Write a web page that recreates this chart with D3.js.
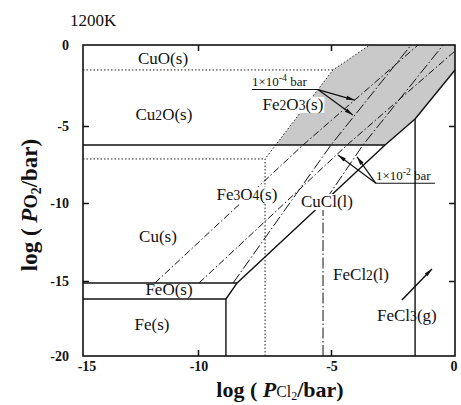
<!DOCTYPE html>
<html>
<head>
<meta charset="utf-8">
<script src="https://cdn.jsdelivr.net/npm/d3@7"></script>
<style>
body { margin: 0; background: #fff; }
text { font-family: "Liberation Serif", "DejaVu Serif", serif; fill: #111; }
</style>
</head>
<body>
<div id="chart"></div>
<script>
///////////////////// DATA /////////////////////////
let x_ticks = [-15, -10, -5, 0];
let y_ticks = [0, -5, -10, -15, -20];

// Fe-O-Cl phase boundaries (solid), [log PCl2, log PO2]
let fe_lines = [
    [[-15, -16.2], [-8.95, -16.2]],                    // Fe / FeO
    [[-8.95, -20], [-8.95, -16.2]],                    // Fe / FeCl2
    [[-15, -15.13], [-8.53, -15.13]],                  // FeO / Fe3O4
    [[-8.95, -16.2], [-8.53, -15.13], [-2.82, -6.23],
     [-1.61, -4.57], [0, -1.54]],                      // oxide / chloride
    [[-15, -6.23], [-2.82, -6.23]],                    // Fe3O4 / Fe2O3
    [[-1.61, -20], [-1.61, -4.57]]                     // FeCl2 / FeCl3
];

// Cu-O-Cl phase boundaries (dotted)
let cu_lines = [
    [[-15, -1.54], [-4.92, -1.54]],                    // Cu2O / CuO
    [[-15, -7.14], [-7.48, -7.14]],                    // Cu / Cu2O
    [[-7.48, -20], [-7.48, -7.14], [-4.92, -1.54], [-3.43, 0]] // / CuCl
];

// iso-pressure lines of the iron chlorides
let fecl2_iso = [
    [[-11.87, -15.13], [-6.05, -6.23], [-1.49, 0]],    // 1e-4 bar
    [[-9.96, -15.13], [-4.35, -6.23], [0, -0.37]]      // 1e-2 bar
];
let fecl3_iso = [
    [[-8.68, -15.13], [-5.0, -6.23], [-1.77, 0]],      // 1e-4 bar
    [[-5.30, -20], [-5.30, -10.05], [-3.71, -6.23], [-0.48, 0]] // 1e-2 bar
];

// Fe2O3(s) + CuCl(l) field
let shaded = [[-7.08, -6.23], [-4.92, -1.54], [-3.43, 0], [0, 0],
              [0, -1.54], [-1.61, -4.57], [-2.82, -6.23]];

// phase names and where they sit
let phase_names = ["CuO(s)", "Cu2O(s)", "Fe2O3(s)", "Fe3O4(s)", "CuCl(l)",
                   "Cu(s)", "FeO(s)", "Fe(s)", "FeCl2(l)", "FeCl3(g)"];
let phase_pos = [[-11.52, -1.17], [-11.48, -4.63], [-6.43, -4.01], [-8.16, -9.81], [-5.15, -10.26],
                 [-11.74, -12.5], [-11.26, -15.93], [-12.0, -18.27], [-3.79, -14.94], [-1.94, -17.67]];
let boxed = ["Fe2O3(s)", "Fe3O4(s)", "CuCl(l)"];

// pressure call-outs
let notes = [
    {sup: "-4", at: [-7.97, -2.55], bar: [[-7.97, -2.75], [-5.49, -2.75]],
     from: [-5.49, -2.75], tips: [[-4.05, -3.40], [-4.12, -4.32]]},
    {sup: "-2", at: [-3.19, -8.5], bar: [[-3.19, -8.72], [-0.81, -8.72]],
     from: [-3.19, -8.72], tips: [[-4.72, -6.88], [-3.95, -7.01]]}
];
let fecl3_arrow = [[-2.14, -16.27], [-0.93, -14.23]];

///////////////////// CHART /////////////////////////
let width = 461, height = 405;

let svg = d3.select("#chart")
    .append("svg")
    .attr("width", width)
    .attr("height", height);

// the scan's axes are not quite even, so the scales are piecewise
let x = d3.scaleLinear().domain(x_ticks).range([83, 198, 331, 455]);
let y = d3.scaleLinear().domain(y_ticks).range([45, 126, 203, 281, 356]);

let line = d3.line().x(d => x(d[0])).y(d => y(d[1]));

let defs = svg.append("defs");
defs.append("marker")
    .attr("id", "head")
    .attr("viewBox", "0 0 10 6")
    .attr("refX", 10).attr("refY", 3)
    .attr("markerWidth", 10).attr("markerHeight", 5)
    .attr("markerUnits", "userSpaceOnUse")
    .attr("orient", "auto")
    .append("path")
    .attr("d", "M0,0.6 L10,3 L0,5.4 Z")
    .attr("fill", "#111");

svg.append("path")
    .attr("d", line(shaded) + "Z")
    .attr("fill", "#c9c9c9");

svg.selectAll(".fe")
    .data(fe_lines)
    .enter()
    .append("path")
    .attr("d", line)
    .attr("fill", "none")
    .attr("stroke", "#111")
    .attr("stroke-width", 1.4);

svg.selectAll(".cu")
    .data(cu_lines)
    .enter()
    .append("path")
    .attr("d", line)
    .attr("fill", "none")
    .attr("stroke", "#222")
    .attr("stroke-width", 1)
    .attr("stroke-dasharray", "1.5,2");

svg.selectAll(".fecl2")
    .data(fecl2_iso)
    .enter()
    .append("path")
    .attr("d", line)
    .attr("fill", "none")
    .attr("stroke", "#111")
    .attr("stroke-width", 1)
    .attr("stroke-dasharray", "7,2.5,1.5,2.5");

svg.selectAll(".fecl3")
    .data(fecl3_iso)
    .enter()
    .append("path")
    .attr("d", line)
    .attr("fill", "none")
    .attr("stroke", "#111")
    .attr("stroke-width", 1)
    .attr("stroke-dasharray", "11,2.5,1.5,2.5");

// frame and inward ticks
svg.append("rect")
    .attr("x", x(-15)).attr("y", y(0))
    .attr("width", x(0) - x(-15)).attr("height", y(-20) - y(0))
    .attr("fill", "none")
    .attr("stroke", "#111")
    .attr("stroke-width", 1.6);

svg.append("g")
    .attr("transform", `translate(0,${y(-20)})`)
    .call(d3.axisTop(x).tickValues([-10, -5]).tickSize(6).tickFormat(""))
    .call(g => g.select(".domain").remove());
svg.append("g")
    .attr("transform", `translate(0,${y(0)})`)
    .call(d3.axisBottom(x).tickValues([-10, -5]).tickSize(6).tickFormat(""))
    .call(g => g.select(".domain").remove());
svg.append("g")
    .attr("transform", `translate(${x(-15)},0)`)
    .call(d3.axisRight(y).tickValues([-5, -10, -15]).tickSize(6).tickFormat(""))
    .call(g => g.select(".domain").remove());
svg.append("g")
    .attr("transform", `translate(${x(0)},0)`)
    .call(d3.axisLeft(y).tickValues([-5, -10, -15]).tickSize(6).tickFormat(""))
    .call(g => g.select(".domain").remove());
svg.selectAll(".tick line").attr("stroke", "#111").attr("stroke-width", 1.5);

// tick labels
svg.selectAll(".xlab")
    .data(x_ticks)
    .enter()
    .append("text")
    .attr("x", d => x(d) + (d == -15 ? 4 : d == 0 ? -1 : 1))
    .attr("y", 371)
    .attr("text-anchor", "middle")
    .attr("font-size", 14)
    .attr("font-weight", "bold")
    .text(d => d);

svg.selectAll(".ylab")
    .data(y_ticks)
    .enter()
    .append("text")
    .attr("x", 69)
    .attr("y", d => y(d) + 5)
    .attr("text-anchor", "end")
    .attr("font-size", 14)
    .attr("font-weight", "bold")
    .text(d => d);

// chemical formula with small digits
let chem = (sel, str) => {
    str.split(/(\d)/).filter(s => s.length).forEach(s => {
        sel.append("tspan")
            .attr("font-size", /\d/.test(s) ? "0.8em" : null)
            .text(s);
    });
};

phase_names.forEach((name, i) => {
    let t = svg.append("text")
        .attr("x", x(phase_pos[i][0]))
        .attr("y", y(phase_pos[i][1]))
        .attr("text-anchor", "middle")
        .attr("font-size", 17);
    chem(t, name);
    if (boxed.includes(name)) {
        let b = t.node().getBBox();
        svg.insert("rect", () => t.node())
            .attr("x", b.x - 1).attr("y", b.y + 2)
            .attr("width", b.width + 2).attr("height", b.height - 3)
            .attr("fill", "#fff");
    }
});

// pressure call-outs
notes.forEach(n => {
    let t = svg.append("text")
        .attr("x", x(n.at[0]))
        .attr("y", y(n.at[1]))
        .attr("font-size", 13);
    t.append("tspan").text("1\u00d710");
    t.append("tspan").attr("font-size", "0.75em").attr("dy", -5).text(n.sup);
    t.append("tspan").attr("dy", 5).text(" bar");
    svg.append("path")
        .attr("d", line(n.bar))
        .attr("stroke", "#111")
        .attr("stroke-width", 1.1);
    n.tips.forEach(tip => {
        svg.append("path")
            .attr("d", line([n.from, tip]))
            .attr("stroke", "#111")
            .attr("stroke-width", 1.2)
            .attr("marker-end", "url(#head)");
    });
});

svg.append("path")
    .attr("d", line(fecl3_arrow))
    .attr("stroke", "#111")
    .attr("stroke-width", 1.5)
    .attr("marker-end", "url(#head)");

// titles
svg.append("text")
    .attr("x", 70)
    .attr("y", 26)
    .attr("font-size", 17)
    .text("1200K");

let xt = svg.append("text")
    .attr("x", 280)
    .attr("y", 397)
    .attr("text-anchor", "middle")
    .attr("font-size", 22)
    .attr("font-weight", "bold");
xt.append("tspan").text("log ( ");
xt.append("tspan").attr("font-style", "italic").text("P");
xt.append("tspan").attr("font-size", "0.72em").attr("font-weight", "normal").text("Cl");
xt.append("tspan").attr("font-size", "0.55em").attr("font-weight", "normal").attr("dy", 3).text("2");
xt.append("tspan").attr("dy", -3).text("/bar)");

let yt = svg.append("text")
    .attr("transform", "translate(37,205) rotate(-90)")
    .attr("text-anchor", "middle")
    .attr("font-size", 23)
    .attr("font-weight", "bold");
yt.append("tspan").text("log ( ");
yt.append("tspan").attr("font-style", "italic").text("P");
yt.append("tspan").attr("font-size", "0.8em").text("O");
yt.append("tspan").attr("font-size", "0.6em").attr("dy", 4).text("2");
yt.append("tspan").attr("dy", -4).text("/bar)");
</script>
</body>
</html>
